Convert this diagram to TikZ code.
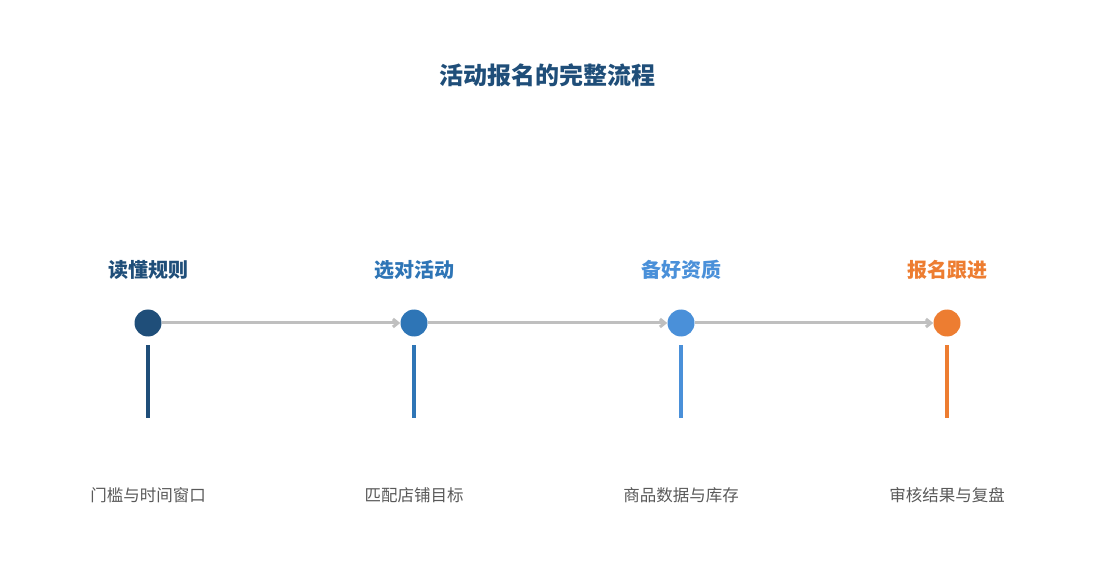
\documentclass[tikz,border=0pt]{standalone}
\usepackage{fontspec}
\setmainfont{Noto Sans CJK SC}
\usetikzlibrary{arrows.meta}
\definecolor{c1}{HTML}{1F4E79}
\definecolor{c2}{HTML}{2E75B6}
\definecolor{c3}{HTML}{4A90D9}
\definecolor{c4}{HTML}{ED7D31}
\definecolor{ln}{HTML}{BFBFBF}
\definecolor{tx}{HTML}{595959}
\begin{document}
\begin{tikzpicture}[x=1pt,y=-1pt,
 dot/.style={circle,fill=#1,minimum size=27pt,inner sep=0},
 head/.style={font=\fontsize{20}{22}\selectfont\bfseries,text=#1},
 lab/.style={font=\fontsize{16.5}{18}\selectfont,text=tx},
 bar/.style={draw=#1,line width=3.5pt},
 conn/.style={draw=ln,line width=3pt,-{Straight Barb[length=5pt,width=8pt]}}]
\useasboundingbox (0,0) rectangle (1095,585);
\node[font=\fontsize{24}{28}\selectfont\bfseries,text=c1] (title) at (547,75) {活动报名的完整流程};
\foreach \i/\x/\c/\h/\l in {1/148/c1/读懂规则/门槛与时间窗口,2/414/c2/选对活动/匹配店铺目标,3/681/c3/备好资质/商品数据与库存,4/947/c4/报名跟进/审核结果与复盘}{
 \node[head=\c] (h\i) at (\x,270) {\h};
 \node[dot=\c] (d\i) at (\x,323) {};
 \coordinate (bt\i) at (\x,345);
 \coordinate (bb\i) at (\x,418);
 \draw[bar=\c] (bt\i) -- (bb\i);
 \node[lab] (l\i) at (\x,495) {\l};
}
\foreach \a/\b in {1/2,2/3,3/4}{\draw[conn] (d\a) -- (d\b);}
\end{tikzpicture}
\end{document}
